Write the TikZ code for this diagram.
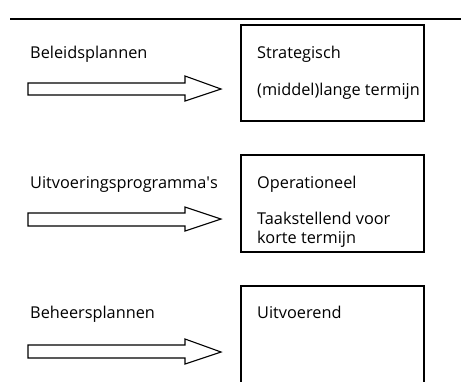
\documentclass[tikz,border=0pt]{standalone}
\usepackage{fontspec}
\setmainfont{Open Sans}
\begin{document}
\begin{tikzpicture}[x=1pt,y=-1pt,
  box/.style={draw,line width=1.1pt},
  label/.style={anchor=base west,inner sep=0pt,font=\fontsize{16.3}{19}\selectfont},
  blockarrow/.style={draw,line width=1.1pt,line join=miter}]
\useasboundingbox (0,0) rectangle (461,381);
\clip (0,0) rectangle (461,381);
% rule at the top
\draw[line width=1.2pt] (10,19) -- (461,19);

% three levels: plan type, block arrow, level box
\draw[box] (241,25) rectangle (424,121);
\node[label] (s1) at (257,58) {Strategisch};
\node[label] (s2) at (257,95) {(middel)lange termijn};
\node[label] (p1) at (30,58) {Beleidsplannen};
\draw[blockarrow] (28,83) -- (185,83) -- (185,76) -- (221,89) -- (185,101) -- (185,95) -- (28,95) -- cycle;

\draw[box] (241,155) rectangle (424,252);
\node[label] (o1) at (257,188) {Operationeel};
\node[label] (o2) at (257,224) {Taakstellend voor};
\node[label] (o3) at (257,243) {korte termijn};
\node[label] (p2) at (30,188) {Uitvoeringsprogramma\textquotesingle s};
\draw[blockarrow] (28,213) -- (185,213) -- (185,207) -- (221,219) -- (185,231) -- (185,226) -- (28,226) -- cycle;

\draw[box] (241,286) rectangle (424,400);
\node[label] (u1) at (257,318) {Uitvoerend};
\node[label] (p3) at (30,318) {Beheersplannen};
\draw[blockarrow] (28,345) -- (185,345) -- (185,339) -- (221,352) -- (185,364) -- (185,358) -- (28,358) -- cycle;
\end{tikzpicture}
\end{document}
